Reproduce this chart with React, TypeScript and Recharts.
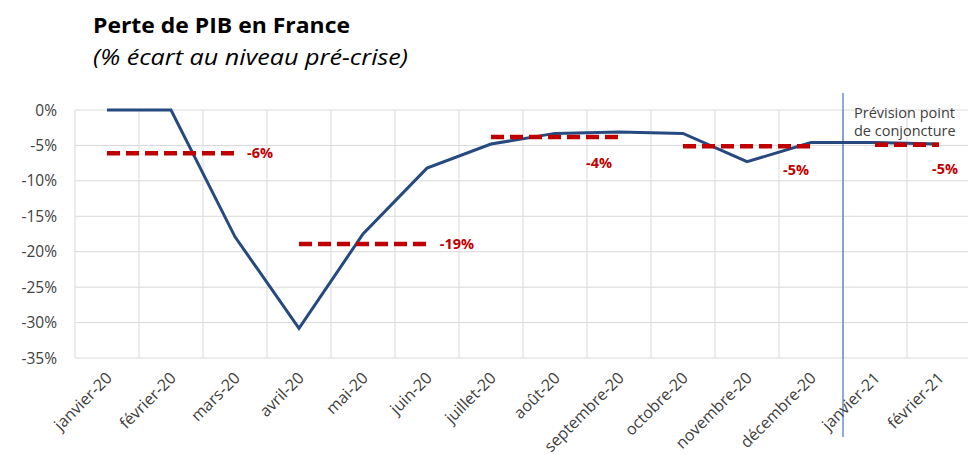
import React from 'react';
import { LineChart, Line, XAxis, YAxis, CartesianGrid, ReferenceLine, LabelList } from 'recharts';

const months = ['janvier-20', 'février-20', 'mars-20', 'avril-20', 'mai-20', 'juin-20', 'juillet-20', 'août-20', 'septembre-20', 'octobre-20', 'novembre-20', 'décembre-20', 'janvier-21', 'février-21'];
const pibLoss = [0, 0, -17.9, -30.8, -17.5, -8.2, -4.8, -3.3, -3.1, -3.3, -7.3, -4.6, -4.6, -4.8];
const quarterValues = [-6.1, -18.9, -3.8, -5.1, -4.9];
const quarterLabels = ['-6%', '-19%', '-4%', '-5%', '-5%'];
const quarterStart = [0, 3, 6, 9, 12];
const quarterEnd = [2, 5, 8, 11, 13];
const yTicks = [-35, -30, -25, -20, -15, -10, -5, 0];
const forecastStart = 12;
const forecastLabel = ['Prévision point', 'de conjoncture'];
const title = 'Perte de PIB en France';
const subtitle = '(% écart au niveau pré-crise)';

const data = months.map((m, i) => {
  const row: any = { x: i + 0.5, month: m, pib: pibLoss[i] };
  quarterValues.forEach((v, q) => {
    row['q' + q] = i >= quarterStart[q] && i <= quarterEnd[q] ? v : null;
  });
  return row;
});
const xTicks = months.map((_, i) => i + 0.5);
const boundaries = Array.from({ length: months.length + 1 }, (_, i) => i);

const FONT = '"Open Sans", Lato, sans-serif';
const labelOffsets = [[25, 0], [30, 0], [-20, 26], [-15, 24], [6, 24]];

const scaleOf = (axis: any) => {
  const s = axis && axis.scale;
  if (typeof s === 'function') return (v: number) => s(v);
  if (s && typeof s.map === 'function') return (v: number) => s.map(v);
  return null;
};

const XTick = (props: any) => {
  const { x, y, payload } = props;
  const label = months[Math.floor(payload.value)];
  return (
    <g transform={`translate(${x + 6},${y + 21})`}>
      <text textAnchor="end" transform="rotate(-45)" fill="#404040" fontSize={16} fontFamily={FONT}>
        {label}
      </text>
    </g>
  );
};

const makeQuarterLabel = (q: number) => (props: any) => {
  const { x, y, index } = props;
  if (index !== quarterEnd[q]) return null;
  const [dx, dy] = labelOffsets[q];
  return (
    <text x={x + dx} y={y + dy + 5} textAnchor="middle" fill="#C00000" fontSize={14.5} fontWeight="bold" fontFamily={FONT}>
      {quarterLabels[q]}
    </text>
  );
};

const ForecastLine = (props: any) => {
  const { x1, y1, y2 } = props;
  const top = Math.min(y1, y2);
  const bottom = Math.max(y1, y2);
  return (
    <g>
      <line x1={x1} y1={top - 17} x2={x1} y2={bottom + 79} stroke="#4472C4" strokeWidth={1.2} />
      <text x={x1 + 11} y={top + 8} fill="#404040" fontSize={14.5} fontFamily={FONT}>{forecastLabel[0]}</text>
      <text x={x1 + 11} y={top + 26} fill="#404040" fontSize={14.5} fontFamily={FONT}>{forecastLabel[1]}</text>
    </g>
  );
};

export default function App() {
  return (
    <div style={{ position: 'absolute', left: 0, top: 0, width: 968, height: 455, overflow: 'hidden', background: '#fff' }}>
      <LineChart width={1000} height={455} data={data} margin={{ top: 110, right: 29, left: 0, bottom: 0 }}>
        <CartesianGrid
          stroke="#D9D9D9"
          strokeWidth={1}
          verticalCoordinatesGenerator={({ xAxis }: any) => {
            const f = scaleOf(xAxis);
            return f ? boundaries.map(f) : [];
          }}
        />
        <XAxis
          type="number"
          dataKey="x"
          domain={[0, months.length]}
          ticks={xTicks}
          interval={0}
          tick={<XTick />}
          axisLine={false}
          tickLine={false}
          tickSize={0}
          tickMargin={0}
          height={97}
        />
        <YAxis
          domain={[-35, 0]}
          ticks={yTicks}
          tickFormatter={(v: number) => `${v}%`}
          axisLine={false}
          tickLine={false}
          tickSize={0}
          tickMargin={18}
          width={75}
          tick={{ fill: '#404040', fontSize: 15.5, fontFamily: FONT }}
        />
        <ReferenceLine x={forecastStart} shape={<ForecastLine />} />
        <Line dataKey="pib" stroke="#264A80" strokeWidth={3} dot={false} isAnimationActive={false} />
        {quarterValues.map((_, q) => (
          <Line
            key={q}
            dataKey={'q' + q}
            stroke="#C00000"
            strokeWidth={4.5}
            strokeDasharray="13 6"
            dot={false}
            connectNulls={false}
            isAnimationActive={false}
          >
            <LabelList dataKey={'q' + q} content={makeQuarterLabel(q)} />
          </Line>
        ))}
      </LineChart>
      <svg width={968} height={80} style={{ position: 'absolute', left: 0, top: 0 }}>
        <text x={93} y={33} fontSize={21} fontWeight="bold" fill="#000" fontFamily={FONT} textLength={257} lengthAdjust="spacingAndGlyphs">{title}</text>
        <text x={93} y={65} fontSize={22} fontStyle="italic" fill="#000" fontFamily={FONT} textLength={315} lengthAdjust="spacingAndGlyphs">{subtitle}</text>
      </svg>
    </div>
  );
}
